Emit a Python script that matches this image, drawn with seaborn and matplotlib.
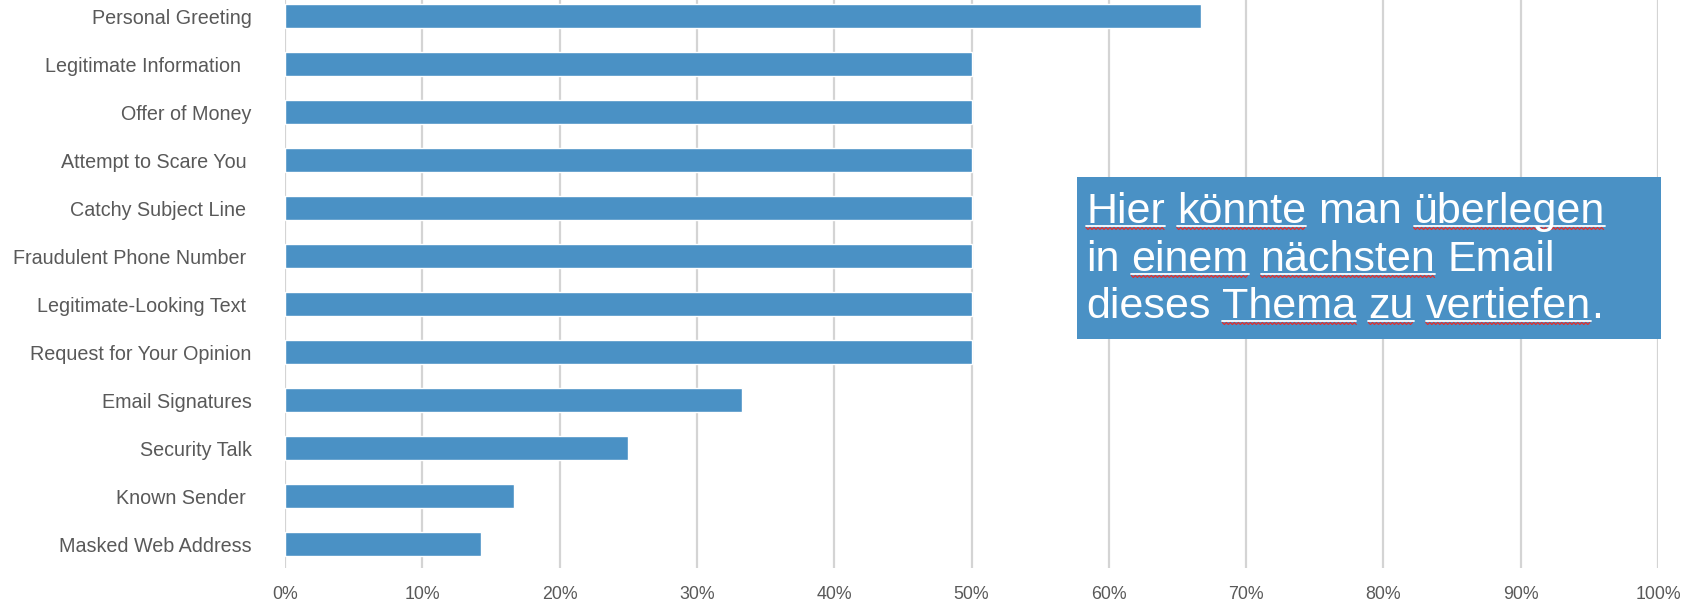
import matplotlib
matplotlib.use('Agg')
import matplotlib.pyplot as plt
import numpy as np
import seaborn as sns
from matplotlib.patches import Rectangle
from matplotlib.lines import Line2D

sns.set_theme(style='white')
plt.rcParams['font.family'] = ['Liberation Sans', 'DejaVu Sans']

# data (share of emails, %)
labels = ['Personal Greeting', 'Legitimate Information  ', 'Offer of Money',
          'Attempt to Scare You ', 'Catchy Subject Line ', 'Fraudulent Phone Number ',
          'Legitimate-Looking Text ', 'Request for Your Opinion', 'Email Signatures',
          'Security Talk', 'Known Sender ', 'Masked Web Address']
values = [66.7, 50.0, 50.0, 50.0, 50.0, 50.0, 50.0, 50.0, 33.3, 25.0, 16.7, 14.3]
xticks = list(range(0, 101, 10))
xtick_labels = [f'{t}%' for t in xticks]

note_lines = [
    [('Hier', True), ('könnte', True), ('man', False), ('überlegen', True)],
    [('in', False), ('einem', True), ('nächsten', True), ('Email', False)],
    [('dieses', False), ('Thema', True), ('zu', True), ('vertiefen', True), ('.', False)],
]

BAR = '#4a91c5'
W, H = 1688, 605
fig = plt.figure(figsize=(W / 100, H / 100), dpi=100)
ax = fig.add_axes([285 / W, (H - 568) / H, (1658 - 285) / W, 576 / H])

sns.barplot(x=values, y=labels, color=BAR, saturation=1, width=0.49,
            orient='h', ax=ax, zorder=3)
ax.set_xlim(0, 100)
ax.set_ylim(11.5, -0.5)
ax.set_xticks(xticks)
ax.set_xticklabels(xtick_labels)
ax.xaxis.grid(True, color='#d4d4d4', linewidth=1.6, zorder=0)
ax.set_axisbelow(True)
for s in ax.spines.values():
    s.set_visible(False)
ax.tick_params(axis='x', length=0, pad=13, labelsize=12.8, labelcolor='#595959')
ax.tick_params(axis='y', length=0, pad=24, labelsize=14.2, labelcolor='#595959')
ax.set_xlabel('')
ax.set_ylabel('')

# annotation box
box = Rectangle((1077 / W, 1 - 339 / H), 584 / W, 162 / H, transform=fig.transFigure,
                facecolor=BAR, edgecolor='none', zorder=5)
fig.patches.append(box)

fig.canvas.draw()
renderer = fig.canvas.get_renderer()
fs = 31
space = 0.278 * fs * 100 / 72
baselines = [223, 271, 318]
for line, base in zip(note_lines, baselines):
    x = 1086
    yb = H - base
    for word, under in line:
        if word == '.':
            x -= space
        t = fig.text(x / W, yb / H, word, color='white', fontsize=fs,
                     va='baseline', ha='left', zorder=6)
        bb = t.get_window_extent(renderer)
        if under:
            fig.add_artist(Line2D([bb.x0 / W, bb.x1 / W], [(yb - 2.5) / H, (yb - 2.5) / H],
                                  transform=fig.transFigure, color='white', lw=1.3, zorder=6))
            xs = np.arange(bb.x0, bb.x1 + 0.1, 2.0)
            ys = yb - 5.5 + np.where(np.arange(len(xs)) % 2 == 0, 1.0, -1.0)
            fig.add_artist(Line2D(xs / W, ys / H, transform=fig.transFigure,
                                  color='#e03030', lw=0.9, zorder=6))
        x = bb.x1 + space

fig.savefig('out.png', dpi=100)
